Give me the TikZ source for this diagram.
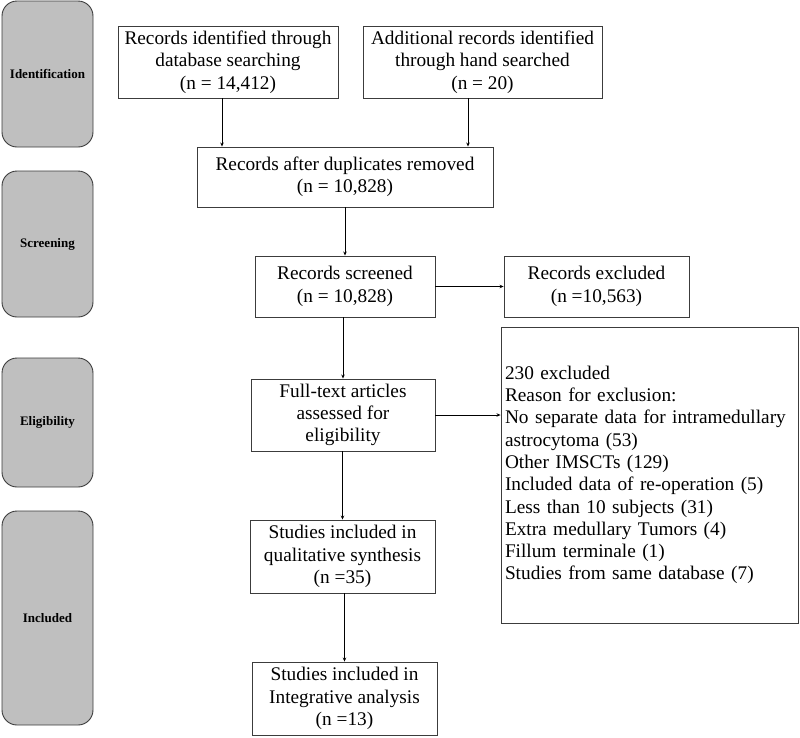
\documentclass[tikz,border=0pt]{standalone}
\usepackage{fontspec}
\setmainfont{Liberation Serif}
\usetikzlibrary{arrows.meta}
\definecolor{sidegray}{RGB}{191,191,191}
\definecolor{linegray}{RGB}{60,60,60}
\begin{document}
\begin{tikzpicture}[x=1pt,y=-1pt,
  box/.style={draw=linegray,line width=0.9pt,fill=white,align=center,inner sep=2pt,
    font=\fontsize{19.3}{22.3}\selectfont},
  side/.style={draw=linegray,line width=0.9pt,fill=sidegray,rounded corners=15pt,
    minimum width=91pt,font=\fontsize{13}{15}\selectfont\bfseries},
  arr/.style={draw=black,line width=0.9pt,-{Stealth[length=4pt,width=3.5pt]}}]
\useasboundingbox (0,0) rectangle (800,737);
% side labels
\node[side,minimum height=146pt] (sid) at (47.5,74) {Identification};
\node[side,minimum height=146pt] (sscr) at (47.5,244) {Screening};
\node[side,minimum height=129pt] (self) at (47.5,422.5) {Eligibility};
\node[side,minimum height=214pt] (sinc) at (47.5,618) {Included};
% main boxes
\node[box,minimum width=220pt,minimum height=72pt] (b1) at (228,62)
  {Records identified through\\database searching\\(n = 14,412)};
\node[box,minimum width=239pt,minimum height=72pt] (b2) at (482.5,62)
  {Additional records identified\\through hand searched\\(n = 20)};
\node[box,minimum width=296pt,minimum height=60pt] (b3) at (345,177)
  {Records after duplicates removed\\(n = 10,828)};
\node[box,minimum width=180pt,minimum height=61pt] (b4) at (345,286.5)
  {Records screened\\(n = 10,828)};
\node[box,minimum width=185pt,minimum height=61pt] (b5) at (596.5,286.5)
  {Records excluded\\(n =10,563)};
\node[box,minimum width=184pt,minimum height=72pt] (b6) at (343,415)
  {Full-text articles\\assessed for\\eligibility};
\node[box,minimum width=297pt,minimum height=296pt,text width=289pt,align=left,inner sep=4pt] (b7) at (649.5,475)
  {230 excluded\\Reason for exclusion:\\No separate data for intramedullary\\astrocytoma (53)\\Other IMSCTs (129)\\Included data of re-operation (5)\\Less than 10 subjects (31)\\Extra medullary Tumors (4)\\Fillum terminale (1)\\Studies from same database (7)};
\node[box,minimum width=185pt,minimum height=73pt] (b8) at (342.5,556.5)
  {Studies included in\\qualitative synthesis\\(n =35)};
\node[box,minimum width=185pt,minimum height=73pt] (b9) at (344.5,698.5)
  {Studies included in\\Integrative analysis\\(n =13)};
% arrows
\draw[arr] ([xshift=-6pt]b1.south) -- ([xshift=-6pt]b1.south |- b3.north);
\draw[arr] ([xshift=-14.5pt]b2.south) -- ([xshift=-14.5pt]b2.south |- b3.north);
\draw[arr] (b3.south -| b4.north) -- (b4.north);
\draw[arr] (b4.east) -- (b5.west);
\draw[arr] (b4.south -| b6.north) -- (b6.north);
\draw[arr] (b6.east) -- (b6.east -| b7.west);
\draw[arr] (b6.south -| b8.north) -- (b8.north);
\draw[arr] (b8.south -| b9.north) -- (b9.north);
\end{tikzpicture}
\end{document}
